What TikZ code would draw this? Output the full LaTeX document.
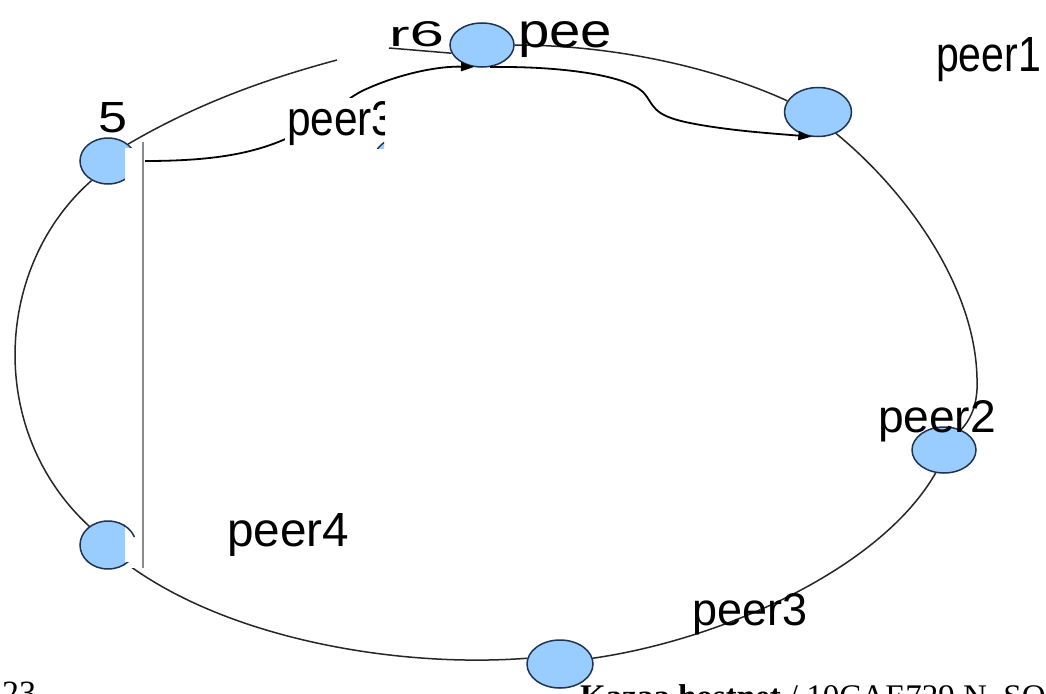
\documentclass[tikz,border=0pt]{standalone}
\usepackage{fontspec}
\usepackage{graphicx}
\setmainfont{Liberation Sans}
\newfontfamily\serifbody{Liberation Serif}
\usetikzlibrary{shapes.geometric,arrows.meta}

\definecolor{nodefill}{HTML}{99CCFF}
\definecolor{nodeline}{HTML}{1E3450}
\definecolor{stripline}{HTML}{8A8A8A}

\tikzset{
  peernode/.style={ellipse, draw=nodeline, fill=nodefill, line width=1.5pt, inner sep=0pt},
  ring/.style={line width=1.5pt, black!85},
  msg/.style={line width=1.8pt, black, -{Triangle[length=13pt,width=9pt]}},
  lab/.style={inner sep=0pt, outer sep=0pt, anchor=base west},
}
\newcommand\fitlabel[3]{\resizebox{#1pt}{#2pt}{#3}}

\begin{document}
\begin{tikzpicture}[x=1pt,y=-1pt]
\useasboundingbox (0,0) rectangle (1046,693);
\clip (0,0) rectangle (1046,693);
\fill[white] (0,0) rectangle (1046,693);

% peers on the ring
\node[peernode, minimum width=56pt, minimum height=46pt] (n5) at (108,161) {};
\node[peernode, minimum width=64pt, minimum height=44pt] (n6) at (482,45) {};
\node[peernode, minimum width=67pt, minimum height=49pt] (p1) at (818,112) {};
\node[peernode, minimum width=64pt, minimum height=46pt] (p2) at (944,450) {};
\node[peernode, minimum width=66pt, minimum height=48pt] (bn) at (560,664) {};
\node[peernode, minimum width=56pt, minimum height=48pt] (n4) at (108,545) {};

% ring links
\coordinate (gapL) at (337,60);
\coordinate (gapR) at (389,48);
\coordinate (rside) at (977,378);
\draw[ring] (n5.40) .. controls (200,102) and (270,78) .. (gapL);
\draw[ring] (gapR) -- (n6.195);
\draw[ring] (n6.east) .. controls (620,45) and (720,70) .. (p1.160);
\draw[ring] (p1.-50) .. controls (905,190) and (975,285) .. (rside)
                     .. controls (978,398) and (974,416) .. (p2.50);
\draw[ring] (p2.-110) .. controls (880,570) and (720,640) .. (bn.10);
\draw[ring] (bn.170) .. controls (400,668) and (230,640) .. (n4.-45);
\draw[ring] (n4.135) .. controls (-15,430) and (-5,265) .. (n5.-130);

% lookup messages
\coordinate (s5) at (145,161);
\draw[msg] (s5) .. controls (220,161) and (262,152) .. (300,132)
                .. controls (330,114) and (345,100) .. (362,91)
                .. controls (400,73) and (440,66) .. (n6.-110);
\draw[msg] (n6.-70) .. controls (560,66) and (625,75) .. (643,92)
                    .. controls (655,105) and (650,115) .. (690,123)
                    .. controls (730,131) and (780,134) .. (p1.-105);

% blank strip with its edge on the left
\fill[white] (125,148) rectangle (142.4,568);
\draw[stripline, line width=1.2pt] (143,142) -- (143,568);
\begin{scope}
  \clip (124,515) rectangle (137,537) (124,562) rectangle (137,580);
  \draw[nodeline, line width=1.5pt] (108,545) ellipse [x radius=28, y radius=24];
\end{scope}

% boxed label over the message path
\begin{scope}
  \clip (285,98) rectangle (384,148);
  \fill[white] (285,98) rectangle (384,148);
  \draw[nodeline, fill=nodefill, line width=1.5pt] (400,160) ellipse [x radius=26, y radius=22];
  \node[lab] (t5b) at (287,135) {\fitlabel{108.6}{34}{peer3}};
\end{scope}

% labels
\node[lab] (t1) at (936,71) {\fitlabel{105}{34}{peer1}};
\node[lab] (t2) at (878,432) {\fitlabel{118}{32}{peer2}};
\node[lab] (t3) at (692,625) {\fitlabel{115}{32}{peer3}};
\node[lab] (t4) at (227,546) {\fitlabel{122}{33}{peer4}};
\node[lab] (t6a) at (518,47) {\fitlabel{94}{26}{pee}};
\node[lab] (t6b) at (389,46) {\fitlabel{55}{25}{r6}};
\node[lab] (t5) at (98,132) {\fitlabel{29}{30}{5}};

% footer line of the page
\node[lab, font=\serifbody\fontsize{34}{34}\selectfont] (pg) at (2,704) {23};
\node[lab, font=\serifbody\fontsize{33}{33}\selectfont] (ft) at (580,707)
  {\textbf{Kazaa.hostnet} / 10CAE729 N\_SO};
\end{tikzpicture}
\end{document}
